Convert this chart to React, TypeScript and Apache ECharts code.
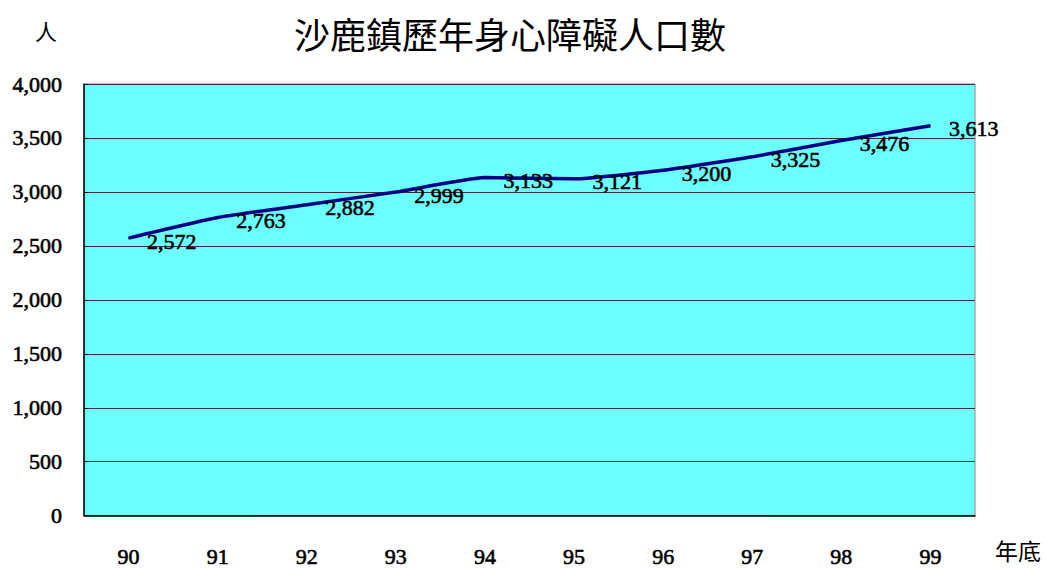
import React, { useEffect, useRef } from "react";
import * as echarts from "echarts";

const titleText = "沙鹿鎮歷年身心障礙人口數";
const yUnit = "人";
const xUnit = "年底";
const years = ["90", "91", "92", "93", "94", "95", "96", "97", "98", "99"];
const people = [2572, 2763, 2882, 2999, 3133, 3121, 3200, 3325, 3476, 3613];
const yMin = 0;
const yMax = 4000;
const yStep = 500;

const numFont = '"Liberation Serif", "DejaVu Serif", serif';
const cjkFont = '"Noto Sans CJK TC", "Noto Sans CJK SC", sans-serif';

const numStyle = {
  color: "#000",
  fontFamily: numFont,
  fontSize: 22,
  fontWeight: "normal",
  textBorderColor: "#000",
  textBorderWidth: 0.6,
};

export default function App() {
  const ref = useRef<HTMLDivElement>(null);
  useEffect(() => {
    if (!ref.current) return;
    const chart = echarts.init(ref.current, null, { renderer: "svg" });
    chart.setOption({
      animation: false,
      backgroundColor: "#ffffff",
      title: {
        text: titleText,
        left: 505,
        top: 10,
        textAlign: "center",
        textStyle: { fontFamily: cjkFont, fontSize: 36, fontWeight: "normal", color: "#000" },
      },
      graphic: [
        {
          type: "text",
          left: 35,
          top: 19,
          style: { text: yUnit, font: `normal 22px ${cjkFont}`, fill: "#000" },
        },
        {
          type: "text",
          left: 995,
          top: 538,
          style: { text: xUnit, font: `normal 23px ${cjkFont}`, fill: "#000" },
        },
      ],
      grid: {
        left: 84,
        right: 70,
        top: 84,
        bottom: 52,
        show: true,
        backgroundColor: "#6BFFFF",
        borderColor: "#888",
        borderWidth: 1,
      },
      xAxis: {
        type: "category",
        data: years,
        boundaryGap: true,
        axisLine: { lineStyle: { color: "#000", width: 1.5 } },
        axisTick: { inside: true, length: 7, lineStyle: { color: "#000" } },
        axisLabel: { margin: 30, ...numStyle },
        splitLine: { show: false },
      },
      yAxis: {
        type: "value",
        min: yMin,
        max: yMax,
        interval: yStep,
        axisLine: { show: true, lineStyle: { color: "#000", width: 1.5 } },
        axisTick: { show: true, inside: true, length: 4, lineStyle: { color: "#000" } },
        axisLabel: {
          margin: 22,
          ...numStyle,
          formatter: (v: number) => v.toLocaleString("en-US"),
        },
        splitLine: { show: true, lineStyle: { color: "#333", width: 1 } },
      },
      series: [
        {
          type: "line",
          data: people,
          symbol: "circle",
          symbolSize: 1,
          showSymbol: true,
          itemStyle: { color: "#000080" },
          smooth: 0.15,
          lineStyle: { color: "#000080", width: 3.5 },
          label: {
            show: true,
            position: "right",
            distance: 18,
            offset: [0, 3],
            ...numStyle,
            formatter: (p: any) => Number(p.value).toLocaleString("en-US"),
          },
        },
      ],
    });
    return () => chart.dispose();
  }, []);
  return (
    <div
      ref={ref}
      style={{ position: "fixed", left: 0, top: 0, width: 1045, height: 568 }}
    />
  );
}
